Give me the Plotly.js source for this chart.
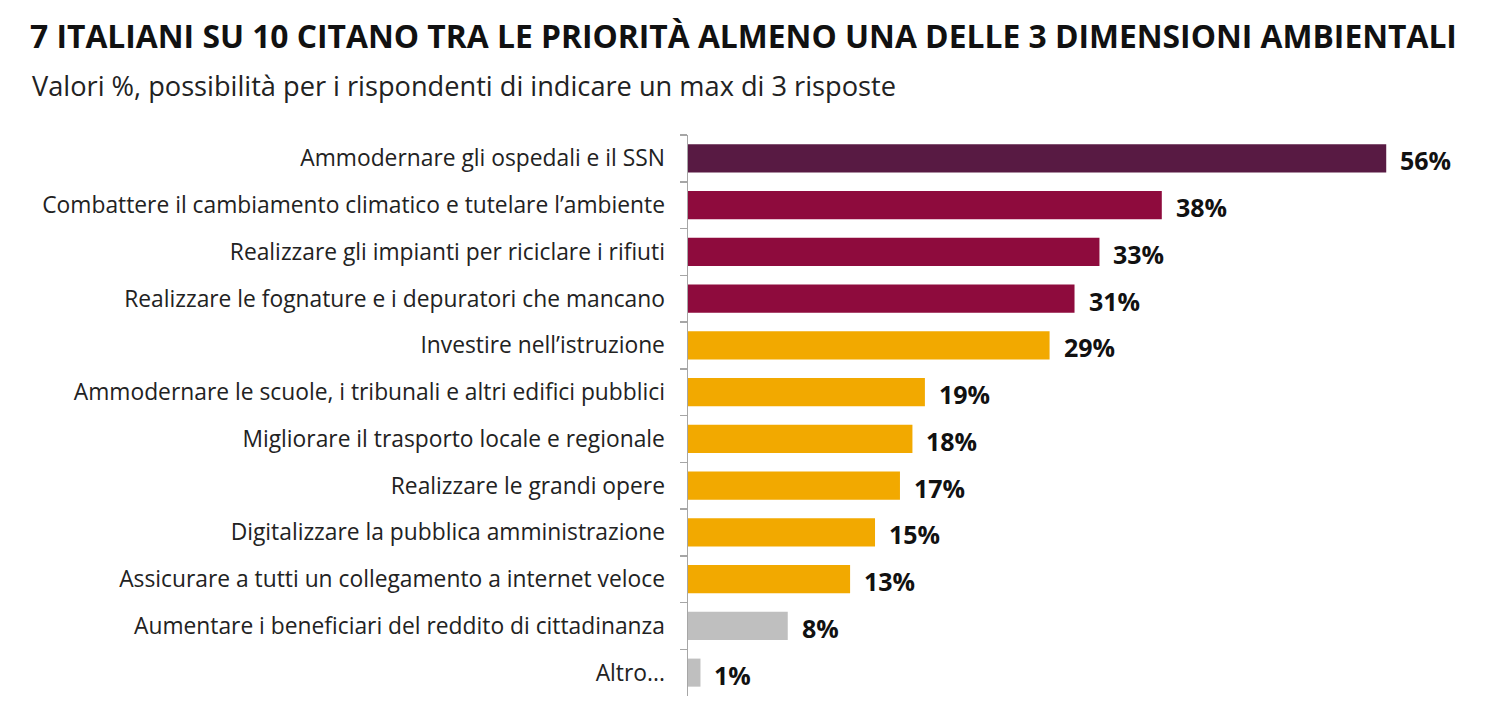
<!DOCTYPE html>
<html><head><meta charset="utf-8">
<script src="https://cdn.plot.ly/plotly-3.0.1.min.js"></script>
<style>html,body{margin:0;padding:0;background:#fff}</style>
</head><body>
<div id="chart" style="width:1486px;height:720px"></div>
<script>
const categories = [
  "Ammodernare gli ospedali e il SSN",
  "Combattere il cambiamento climatico e tutelare l’ambiente",
  "Realizzare gli impianti per riciclare i rifiuti",
  "Realizzare le fognature e i depuratori che mancano",
  "Investire nell’istruzione",
  "Ammodernare le scuole, i tribunali e altri edifici pubblici",
  "Migliorare il trasporto locale e regionale",
  "Realizzare le grandi opere",
  "Digitalizzare la pubblica amministrazione",
  "Assicurare a tutti un collegamento a internet veloce",
  "Aumentare i beneficiari del reddito di cittadinanza",
  "Altro..."
];
const values = [56, 38, 33, 31, 29, 19, 18, 17, 15, 13, 8, 1];
const groups = ["top","env","env","env","other","other","other","other","other","other","low","low"];
const groupColors = {top:"#581a43", env:"#8e0b3d", other:"#f2a900", low:"#bfbfbf"};

const FONT = "'Open Sans', 'Noto Sans', sans-serif";

const trace = {
  type: "bar",
  orientation: "h",
  y: categories,
  x: values,
  marker: {color: groups.map(g => groupColors[g])},
  width: 0.6,
  hoverinfo: "x+y"
};

const annotations = categories.map((c, i) => ({
  x: values[i], y: c, xref: "x", yref: "y",
  text: values[i] + "%",
  showarrow: false, xanchor: "left", yanchor: "middle", xshift: 12, yshift: -2,
  font: {family: FONT, size: 25, color: "#111", weight: 700}
}));
annotations.push({
  xref: "paper", yref: "paper",
  x: (30 - 688) / 788, y: 1 + (135 - 86) / 561,
  xanchor: "left", yanchor: "middle", showarrow: false,
  text: "Valori %, possibilità per i rispondenti di indicare un max di 3 risposte",
  font: {family: FONT, size: 27.2, color: "#222"}
});

const layout = {
  width: 1486, height: 720,
  margin: {l: 688, r: 10, t: 135, b: 24},
  paper_bgcolor: "#fff", plot_bgcolor: "#fff",
  showlegend: false,
  title: {
    text: "<b>7 ITALIANI SU 10 CITANO TRA LE PRIORITÀ ALMENO UNA DELLE 3 DIMENSIONI AMBIENTALI</b>",
    xref: "container", yref: "container", x: 30/1486, xanchor: "left",
    y: 1 - 37/720, yanchor: "middle",
    font: {family: FONT, size: 31.8, color: "#111"}
  },
  xaxis: {range: [0, 63.2], visible: false, fixedrange: true},
  yaxis: {
    type: "category", autorange: "reversed",
    showline: true, linecolor: "#a6a6a6", linewidth: 1.5,
    ticks: "outside", tickson: "boundaries", ticklen: 7, tickcolor: "#a6a6a6", tickwidth: 1.5,
    tickfont: {family: FONT, size: 22.8, color: "#222"},
    ticklabelstandoff: 17,
    showgrid: false, zeroline: false, automargin: false
  },
  annotations: annotations
};

Plotly.newPlot("chart", [trace], layout, {displayModeBar: false, staticPlot: true});
</script>
</body></html>
